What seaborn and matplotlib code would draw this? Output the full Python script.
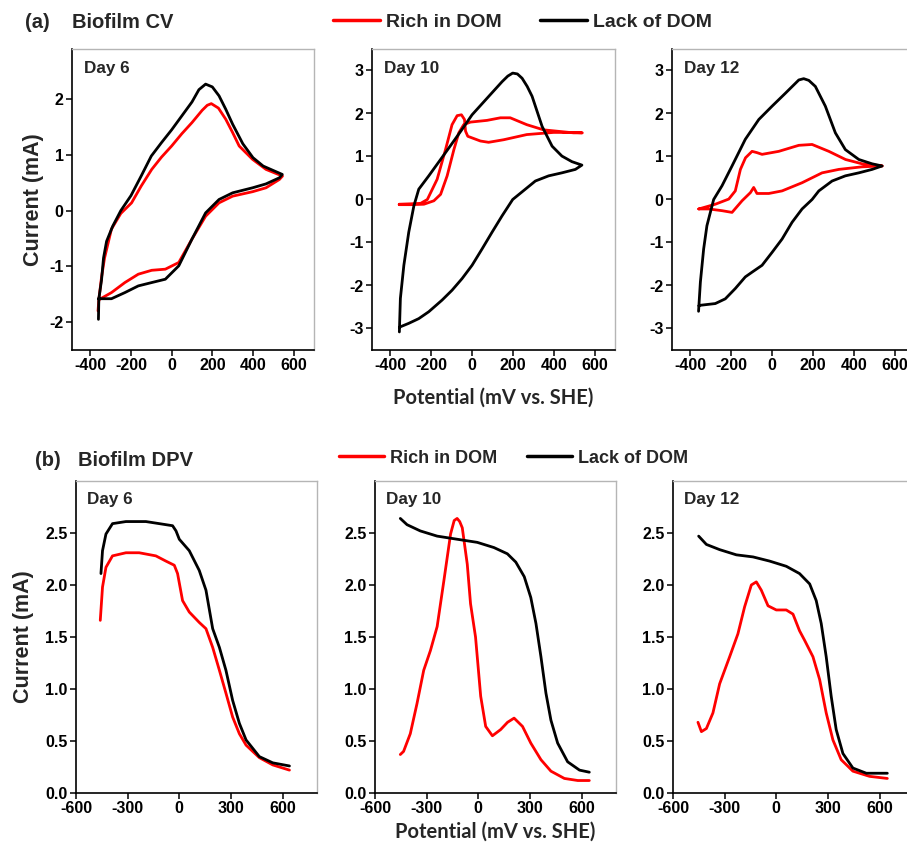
import numpy as np
import pandas as pd
import matplotlib
matplotlib.use("Agg")
import matplotlib.pyplot as plt
import seaborn as sns
from matplotlib.lines import Line2D

# ---------------- data ----------------
# CV Day 6
cv6_lack_E = [-360, -358, -345, -335, -320, -290, -250, -200, -150, -100, -50, 0, 50, 100, 134, 167, 200, 233, 266, 300,
              350, 400, 450, 500, 544,
              530, 464, 398, 300, 233, 167, 100, 35, -31, -98, -164, -230, -296, -354, -360]
cv6_lack_I = [-1.95, -1.58, -1.25, -0.85, -0.55, -0.28, 0.0, 0.27, 0.62, 0.98, 1.22, 1.45, 1.7, 1.95, 2.17, 2.27, 2.22, 2.06,
              1.82, 1.55, 1.2, 0.95, 0.8, 0.72, 0.65,
              0.59, 0.48, 0.41, 0.32, 0.2, -0.04, -0.51, -0.99, -1.23, -1.29, -1.35, -1.47, -1.58, -1.58, -1.58]
cv6_rich_E = [-362, -358, -345, -330, -296, -250, -197, -150, -98, -50, 0, 50, 100, 150, 175, 195, 230, 266, 300, 332, 398,
              464, 545,
              530, 464, 398, 300, 233, 167, 100, 35, -31, -98, -164, -230, -296, -354]
cv6_rich_I = [-1.8, -1.6, -1.2, -0.85, -0.33, -0.05, 0.14, 0.44, 0.74, 0.96, 1.16, 1.38, 1.58, 1.8, 1.89, 1.92, 1.84, 1.64,
              1.4, 1.16, 0.92, 0.74, 0.62,
              0.56, 0.41, 0.34, 0.26, 0.14, -0.1, -0.51, -0.93, -1.05, -1.07, -1.14, -1.29, -1.47, -1.59]

# CV Day 10
cv10_lack_E = [-356, -351, -334, -310, -285, -261, -212, -130, -49, 0, 82, 147, 175, 199, 222, 245, 270, 294, 343, 392,
               440, 489, 538,
               506, 440, 375, 310, 261, 199, 147, 98, 49, 0, -49, -98, -147, -212, -261, -310, -351, -356]
cv10_lack_I = [-3.08, -2.3, -1.53, -0.76, -0.15, 0.24, 0.55, 1.09, 1.63, 1.97, 2.4, 2.74, 2.87, 2.94, 2.92, 2.82, 2.63,
               2.4, 1.7, 1.24, 1.01, 0.88, 0.8,
               0.7, 0.62, 0.55, 0.43, 0.24, 0.0, -0.38, -0.76, -1.15, -1.53, -1.84, -2.11, -2.34, -2.61, -2.77, -2.88,
               -2.96, -2.98]
cv10_rich_E = [-357, -300, -252, -219, -171, -130, -98, -73, -52, -37, -32, -21, 41, 81, 155, 268, 399, 497, 540,
               497, 350, 268, 187, 139, 73, -8, -41, -65, -89, -122, -154, -187, -236, -300, -357]
cv10_rich_I = [-0.11, -0.10, -0.09, 0.0, 0.47, 1.16, 1.74, 1.95, 1.97, 1.86, 1.59, 1.47, 1.36, 1.33, 1.39, 1.51, 1.56,
               1.56, 1.55,
               1.55, 1.62, 1.74, 1.90, 1.90, 1.84, 1.80, 1.74, 1.55, 1.16, 0.55, 0.12, -0.03, -0.11, -0.12, -0.12]

# CV Day 12
cv12_lack_E = [-360, -351, -335, -319, -286, -245, -196, -131, -65, 0, 65, 131, 155, 180, 212, 261, 310, 359, 425, 490,
               539,
               490, 425, 359, 294, 229, 196, 147, 98, 49, 0, -49, -98, -131, -180, -229, -278, -351, -358]
cv12_lack_I = [-2.6, -1.92, -1.15, -0.61, 0.0, 0.32, 0.78, 1.4, 1.86, 2.17, 2.47, 2.78, 2.81, 2.77, 2.63, 2.17, 1.55, 1.16,
               0.93, 0.83, 0.78,
               0.70, 0.62, 0.55, 0.43, 0.2, 0.0, -0.22, -0.53, -0.92, -1.23, -1.53, -1.69, -1.80, -2.07, -2.31, -2.42,
               -2.46, -2.47]
cv12_rich_E = [-359, -278, -212, -180, -155, -130, -98, -74, -49, 33, 131, 196, 278, 360, 441, 523, 540,
               441, 327, 245, 147, 49, -16, -74, -90, -106, -147, -196, -245, -310, -359]
cv12_rich_I = [-0.22, -0.11, 0.01, 0.2, 0.70, 0.97, 1.12, 1.09, 1.05, 1.12, 1.26, 1.28, 1.12, 0.93, 0.83, 0.79, 0.78,
               0.76, 0.70, 0.62, 0.39, 0.20, 0.14, 0.14, 0.28, 0.16, -0.03, -0.30, -0.26, -0.22, -0.22]

# DPV Day 6
dpv6_lack_E = [-455, -446, -426, -388, -310, -194, -116, -39, -19, 0, 58, 116, 155, 194, 233, 271, 310, 349, 388, 465, 543, 640]
dpv6_lack_I = [2.11, 2.33, 2.49, 2.59, 2.61, 2.61, 2.59, 2.57, 2.52, 2.44, 2.33, 2.14, 1.95, 1.58, 1.40, 1.18, 0.89, 0.67,
               0.51, 0.35, 0.29, 0.26]
dpv6_rich_E = [-459, -446, -426, -388, -310, -233, -136, -78, -29, -10, 19, 58, 116, 155, 194, 233, 271, 310, 349, 388, 465, 543, 640]
dpv6_rich_I = [1.66, 1.98, 2.17, 2.28, 2.31, 2.31, 2.28, 2.23, 2.19, 2.11, 1.85, 1.74, 1.64, 1.58, 1.40, 1.18, 0.96, 0.73,
               0.57, 0.46, 0.34, 0.27, 0.22]

# DPV Day 10
dpv10_lack_E = [-453, -414, -337, -239, -123, -6, 91, 169, 218, 267, 305, 335, 364, 393, 422, 461, 519, 588, 645]
dpv10_lack_I = [2.64, 2.58, 2.52, 2.47, 2.44, 2.41, 2.36, 2.30, 2.22, 2.08, 1.88, 1.63, 1.31, 0.96, 0.70, 0.48, 0.30, 0.22, 0.20]
dpv10_rich_E = [-453, -434, -395, -356, -317, -278, -239, -200, -161, -140, -123, -108, -93, -64, -45, -16, 14, 43, 82, 130,
                170, 208, 257, 305, 364, 422, 500, 578, 645]
dpv10_rich_I = [0.37, 0.40, 0.57, 0.86, 1.18, 1.37, 1.60, 2.04, 2.49, 2.62, 2.64, 2.61, 2.55, 2.20, 1.82, 1.50, 0.93, 0.64,
                0.55, 0.61, 0.68, 0.72, 0.64, 0.48, 0.32, 0.21, 0.14, 0.12, 0.12]

# DPV Day 12
dpv12_lack_E = [-451, -406, -329, -232, -135, -39, 58, 135, 194, 232, 261, 290, 319, 348, 387, 445, 523, 645]
dpv12_lack_I = [2.47, 2.39, 2.34, 2.29, 2.27, 2.23, 2.18, 2.11, 2.01, 1.85, 1.63, 1.31, 0.93, 0.61, 0.38, 0.24, 0.19, 0.19]
dpv12_rich_E = [-455, -435, -406, -368, -329, -271, -223, -184, -145, -116, -87, -48, 0, 58, 97, 135, 164, 213, 252, 290,
                329, 377, 445, 542, 645]
dpv12_rich_I = [0.68, 0.59, 0.62, 0.77, 1.05, 1.31, 1.53, 1.79, 2.0, 2.03, 1.95, 1.80, 1.76, 1.76, 1.72, 1.56, 1.47, 1.31,
                1.09, 0.77, 0.51, 0.32, 0.21, 0.16, 0.14]

series_names = ["Rich in DOM", "Lack of DOM"]
day_labels = ["Day 6", "Day 10", "Day 12"]
cv_xticks = [-400, -200, 0, 200, 400, 600]
dpv_xticks = [-600, -300, 0, 300, 600]
dpv_yticks = [0.0, 0.5, 1.0, 1.5, 2.0, 2.5]

# ---------------- style ----------------
sns.set_style("ticks")
plt.rcParams["font.family"] = ["Liberation Sans", "DejaVu Sans"]
plt.rcParams["font.weight"] = "bold"
plt.rcParams["axes.unicode_minus"] = False
plt.rcParams["lines.solid_joinstyle"] = "round"
plt.rcParams["lines.solid_capstyle"] = "round"
XLBL = ["Lato", "DejaVu Sans"]

W, H = 907, 847
fig = plt.figure(figsize=(W / 100, H / 100), dpi=100)


def add_ax(x0, y0, x1, y1):
    return fig.add_axes([x0 / W, 1 - y1 / H, (x1 - x0) / W, (y1 - y0) / H])


def style(ax):
    for s in ["left", "bottom"]:
        ax.spines[s].set_color("black")
        ax.spines[s].set_linewidth(1.2)
    for s in ["top", "right"]:
        ax.spines[s].set_color("#b5b5b5")
        ax.spines[s].set_linewidth(1.0)
        ax.spines[s].set_visible(True)
    ax.tick_params(direction="out", length=4, width=1.1, labelsize=11.5, pad=2,
                   top=False, right=False, colors="black")
    for lab in ax.get_xticklabels() + ax.get_yticklabels():
        lab.set_fontweight("bold")
    ax.set_xlabel("")
    ax.set_ylabel("")


RED, BLK, LW = "#ff0000", "black", 2.0

cv_sets = [
    (cv6_rich_E, cv6_rich_I, cv6_lack_E, cv6_lack_I),
    (cv10_rich_E, cv10_rich_I, cv10_lack_E, cv10_lack_I),
    (cv12_rich_E, cv12_rich_I, cv12_lack_E, cv12_lack_I),
]
dpv_sets = [
    (dpv6_rich_E, dpv6_rich_I, dpv6_lack_E, dpv6_lack_I),
    (dpv10_rich_E, dpv10_rich_I, dpv10_lack_E, dpv10_lack_I),
    (dpv12_rich_E, dpv12_rich_I, dpv12_lack_E, dpv12_lack_I),
]

top_boxes = [(72, 49, 314, 350), (372, 49, 615, 350), (672, 49, 915, 350)]
bot_boxes = [(76, 481, 317, 793), (375, 481, 616, 793), (673, 481, 914, 793)]

for i, (box, (rE, rI, lE, lI)) in enumerate(zip(top_boxes, cv_sets)):
    ax = add_ax(*box)
    sns.lineplot(x=rE, y=rI, sort=False, estimator=None, color=RED, lw=LW, ax=ax)
    sns.lineplot(x=lE, y=lI, sort=False, estimator=None, color=BLK, lw=LW, ax=ax)
    ax.set_xlim(-490, 700)
    ax.set_xticks(cv_xticks)
    if i == 0:
        ax.set_ylim(-2.5, 2.9)
        ax.set_yticks([-2, -1, 0, 1, 2])
    else:
        ax.set_ylim(-3.5, 3.5)
        ax.set_yticks([-3, -2, -1, 0, 1, 2, 3])
    style(ax)
    ax.text(0.05, 0.935, day_labels[i], transform=ax.transAxes, fontsize=12.3,
            fontweight="bold", ha="left", va="center")
    if i == 0:
        ax.set_ylabel("Current (mA)", fontsize=15.5, fontweight="bold", labelpad=4)
    if i == 1:
        ax.set_xlabel("Potential (mV vs. SHE)", fontsize=14.5, fontweight="bold", family=XLBL, labelpad=10)

for i, (box, (rE, rI, lE, lI)) in enumerate(zip(bot_boxes, dpv_sets)):
    ax = add_ax(*box)
    sns.lineplot(x=rE, y=rI, sort=False, estimator=None, color=RED, lw=LW, ax=ax)
    sns.lineplot(x=lE, y=lI, sort=False, estimator=None, color=BLK, lw=LW, ax=ax)
    ax.set_xlim(-600, 800)
    ax.set_xticks(dpv_xticks)
    ax.set_ylim(0, 3.0)
    ax.set_yticks(dpv_yticks)
    ax.set_yticklabels([f"{v:.1f}" for v in dpv_yticks])
    style(ax)
    ax.text(0.045, 0.94, day_labels[i], transform=ax.transAxes, fontsize=12.3,
            fontweight="bold", ha="left", va="center")
    if i == 0:
        ax.set_ylabel("Current (mA)", fontsize=15.5, fontweight="bold", labelpad=8)
    if i == 1:
        ax.set_xlabel("Potential (mV vs. SHE)", fontsize=14.5, fontweight="bold", family=XLBL, labelpad=4)

# panel titles
fig.text(25 / W, 1 - 22 / H, "(a)", fontsize=14.5, fontweight="bold", va="center")
fig.text(72 / W, 1 - 22 / H, "Biofilm CV", fontsize=14.5, fontweight="bold", va="center")
fig.text(35 / W, 1 - 460 / H, "(b)", fontsize=14.5, fontweight="bold", va="center")
fig.text(78 / W, 1 - 460 / H, "Biofilm DPV", fontsize=14.5, fontweight="bold", va="center")

# legends
handles = [Line2D([], [], color=RED, lw=2.5), Line2D([], [], color=BLK, lw=2.5)]
fig.legend(handles, series_names, loc="center left", bbox_to_anchor=(333 / W, 1 - 22 / H),
           ncol=2, frameon=False, borderpad=0, borderaxespad=0, handlelength=2.4,
           handletextpad=0.3, columnspacing=2.0, prop={"weight": "bold", "size": 14})
fig.legend(handles, series_names, loc="center left", bbox_to_anchor=(339 / W, 1 - 458 / H),
           ncol=2, frameon=False, borderpad=0, borderaxespad=0, handlelength=2.5,
           handletextpad=0.35, columnspacing=1.6, prop={"weight": "bold", "size": 13})

fig.savefig("out.png", dpi=100)
